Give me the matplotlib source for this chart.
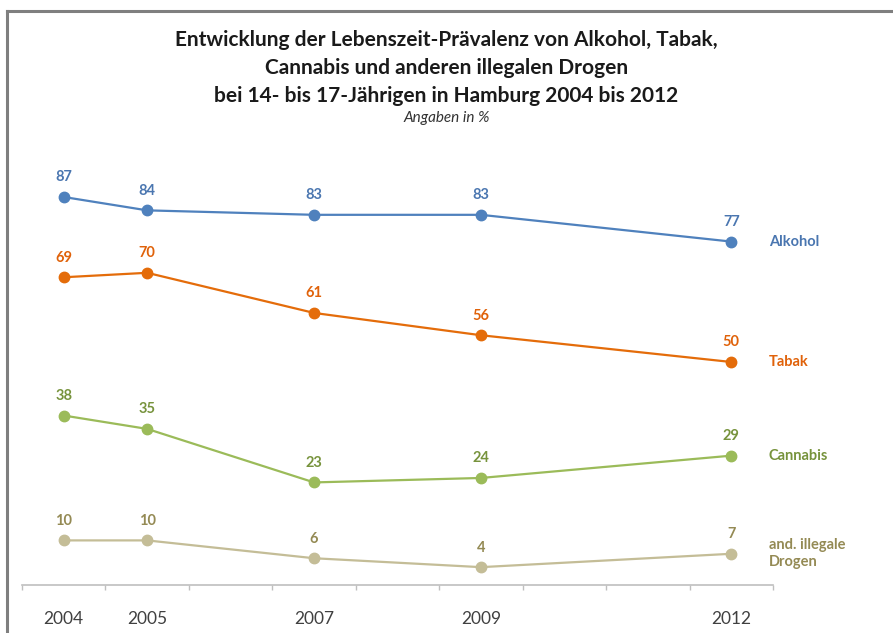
import numpy as np
import matplotlib
matplotlib.use("Agg")
import matplotlib.pyplot as plt
from matplotlib.lines import Line2D

plt.rcParams['font.family'] = ['Lato', 'DejaVu Sans']

years = [2004, 2005, 2007, 2009, 2012]
alkohol = [87, 84, 83, 83, 77]
tabak = [69, 70, 61, 56, 50]
cannabis = [38, 35, 23, 24, 29]
drogen = [10, 10, 6, 4, 7]

series = [
    ("Alkohol", alkohol, "#4F81BD", "#4A76B0"),
    ("Tabak", tabak, "#E46C0A", "#E0620A"),
    ("Cannabis", cannabis, "#9BBB59", "#77933C"),
    ("and. illegale\nDrogen", drogen, "#C4BD97", "#948A54"),
]

fig = plt.figure(figsize=(8.93, 6.33), dpi=100)
ax = fig.add_axes([22 / 893, 48 / 633, 751 / 893, 446 / 633])

for name, vals, col, txtcol in series:
    ax.plot(years, vals, color=col, lw=1.6, marker='o', ms=7.5, zorder=3)
    for x, y in zip(years, vals):
        ax.annotate(str(y), (x, y), xytext=(0, 9), textcoords='offset points',
                    ha='center', va='bottom', fontsize=10.5, fontweight='bold',
                    color=txtcol)
    ax.annotate(name, (years[-1], vals[-1]), xytext=(27, 0), textcoords='offset points',
                ha='left', va='center', fontsize=10.5, fontweight='bold',
                color=txtcol, linespacing=1.3, annotation_clip=False)

ax.set_xlim(2003.5, 2012.5)
ax.set_ylim(0, 100)
ax.set_xticks(years)
ax.set_xticklabels([str(y) for y in years], fontsize=12.5, color='#404040')
ax.set_xticks(np.arange(2003.5, 2013, 1), minor=True)
ax.tick_params(axis='x', which='major', length=0, pad=19)
ax.tick_params(axis='x', which='minor', length=3.5, color='#BFBFBF', width=1)
ax.set_yticks([])
for s in ['top', 'right', 'left']:
    ax.spines[s].set_visible(False)
ax.spines['bottom'].set_color('#BFBFBF')
ax.spines['bottom'].set_linewidth(1.2)

title_lines = [
    "Entwicklung der Lebenszeit-Prävalenz von Alkohol, Tabak,",
    "Cannabis und anderen illegalen Drogen",
    "bei 14- bis 17-Jährigen in Hamburg 2004 bis 2012",
]
for i, line in enumerate(title_lines):
    fig.text(0.5, 1 - (40 + 28 * i) / 633, line, ha='center', va='center',
             fontsize=15, fontweight='bold', color='#1a1a1a')
fig.text(0.5, 1 - 118 / 633, "Angaben in %", ha='center', va='center',
         fontsize=11, style='italic', color='#333333')

# grey frame along the top and left edge
fig.add_artist(Line2D([7 / 893, 7 / 893], [0, 1 - 11 / 633], transform=fig.transFigure,
                      color='#7F7F7F', lw=2.2))
fig.add_artist(Line2D([7 / 893, 1], [1 - 11 / 633, 1 - 11 / 633], transform=fig.transFigure,
                      color='#7F7F7F', lw=2.2))

fig.savefig("out.png", dpi=100)
